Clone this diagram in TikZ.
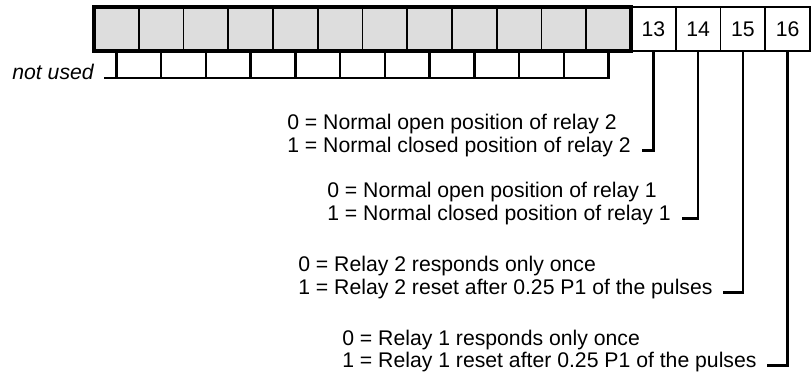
\documentclass[tikz,border=0pt]{standalone}
\usepackage{fontspec}
\setmainfont{Liberation Sans}
\usetikzlibrary{positioning}
\definecolor{cellgray}{RGB}{221,221,221}

\begin{document}
\begin{tikzpicture}[
  x=0.75pt, y=-0.75pt,
  node distance=0pt,
  cell/.style={draw, line width=1.3pt, minimum width=33.56pt,
               minimum height=33pt, inner sep=0pt, outer sep=0pt,
               font=\fontsize{15.9}{18}\selectfont},
  unused/.style={cell, fill=cellgray},
  desc/.style={inner sep=0pt, anchor=base west,
               font=\fontsize{15.9}{18}\selectfont},
  wire/.style={line width=1.8pt}
]
  \useasboundingbox (0,0) rectangle (812,373);

  % register bits
  \node[unused] (c1) at (116.4,29) {};
  \foreach \i [count=\j from 1] in {2,...,12}
    \node[unused, right=of c\j] (c\i) {};
  \foreach \i [count=\j from 12] in {13,...,16}
    \node[cell, right=of c\j] (c\i) {\i};
  \draw[line width=2.4pt] (c1.north west) rectangle (c12.south east);

  % unused bits
  \node[desc, anchor=base east, font=\fontsize{15.9}{18}\selectfont\itshape]
        (nu) at (94,80) {not used};
  \draw[wire] ([xshift=7.5pt,yshift=1.5pt]nu.base east) coordinate (nuline)
        -| (c12.south);
  \foreach \i in {1,...,11}
    \draw[wire] (c\i.south) -- (c\i.south |- nuline);

  % descriptions
  \node[desc] (r2a) at (287,130) {0 = Normal open position of relay 2};
  \node[desc] (r2b) at ([yshift=-16.9pt]r2a.base west)
        {1 = Normal closed position of relay 2};
  \node[desc] (r1a) at (327,198) {0 = Normal open position of relay 1};
  \node[desc] (r1b) at ([yshift=-16.9pt]r1a.base west)
        {1 = Normal closed position of relay 1};
  \node[desc] (p2a) at (298,272) {0 = Relay 2 responds only once};
  \node[desc] (p2b) at ([yshift=-16.9pt]p2a.base west)
        {1 = Relay 2 reset after 0.25 P1 of the pulses};
  \node[desc] (p1a) at (342,345) {0 = Relay 1 responds only once};
  \node[desc] (p1b) at ([yshift=-16.9pt]p1a.base west)
        {1 = Relay 1 reset after 0.25 P1 of the pulses};

  % bit connectors
  \draw[wire] (c13.south) |- ([xshift=8pt,yshift=1.5pt]r2b.base east);
  \draw[wire] (c14.south) |- ([xshift=8pt,yshift=1.5pt]r1b.base east);
  \draw[wire] (c15.south) |- ([xshift=8pt,yshift=1.5pt]p2b.base east);
  \draw[wire] (c16.south) |- ([xshift=8pt,yshift=1.5pt]p1b.base east);
\end{tikzpicture}
\end{document}
